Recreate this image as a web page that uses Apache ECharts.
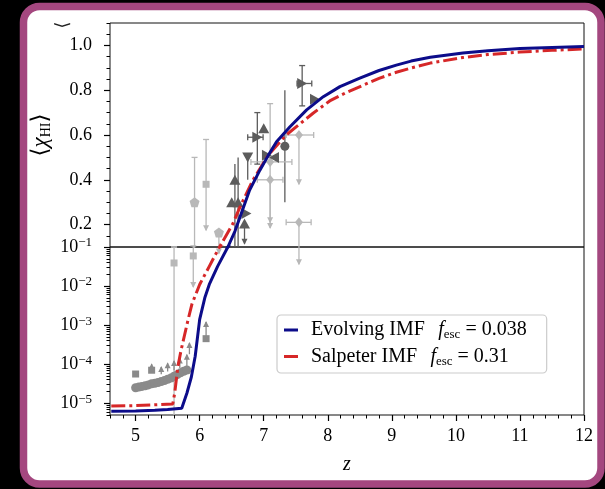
<!DOCTYPE html>
<html>
<head>
<meta charset="utf-8">
<script src="https://cdn.jsdelivr.net/npm/echarts@6/dist/echarts.min.js"></script>
<style>
  html, body { margin: 0; padding: 0; background: #000; }
  #chart { width: 605px; height: 489px; }
</style>
</head>
<body>
<div id="chart"></div>
<script>
// Mean neutral hydrogen fraction <x_HI> against redshift z for two IMF models.
const SERIF = '"Liberation Serif", "DejaVu Serif", serif';

// --- model curves -------------------------------------------------------
const evolvingZ = [4.62, 5.0, 5.3, 5.5, 5.72, 5.8, 5.87, 5.93, 6.0, 6.08, 6.15, 6.28, 6.44,
  6.55, 6.63, 6.78, 6.94, 7.09, 7.2, 7.41, 7.67, 7.93, 8.19, 8.5, 8.8, 9.07, 9.3, 9.6, 10.11,
  10.5, 11.0, 11.5, 12.0];
const evolvingX = [6.2e-6, 6.3e-6, 6.6e-6, 6.9e-6, 7.4e-6, 1.8e-5, 4.7e-5, 1.6e-4, 1.4e-3, 5.0e-3,
  1.1e-2, 3.2e-2, 0.1, 0.17, 0.234, 0.354, 0.443, 0.518, 0.57, 0.637, 0.712, 0.771, 0.816, 0.854,
  0.888, 0.912, 0.930, 0.947, 0.966, 0.976, 0.986, 0.991, 0.995];

const salpeterZ = [4.62, 5.0, 5.3, 5.58, 5.61, 5.66, 5.71, 5.82, 5.88, 6.0, 6.15, 6.31,
  6.52, 6.63, 6.83, 7.07, 7.35, 7.77, 8.03, 8.29, 8.55, 8.8, 9.07, 9.3, 9.6, 10.11, 10.5, 11.0,
  11.5, 12.0];
const salpeterX = [8.5e-6, 8.7e-6, 9.1e-6, 9.6e-6, 1.8e-5, 8.7e-5, 2.3e-4, 1.4e-3, 3.5e-3, 1.1e-2,
  3.2e-2, 0.1, 0.205, 0.279, 0.398, 0.51, 0.60, 0.697, 0.752, 0.790, 0.822, 0.853, 0.880, 0.899,
  0.921, 0.946, 0.959, 0.970, 0.978, 0.984];

const seriesNames = ['Evolving IMF', 'Salpeter IMF'];
const fescValues = ['0.038', '0.31'];

// --- observational constraints -------------------------------------------
// markers: [z, x_HI]
const darkRightTri = [[7.60, 0.83], [7.80, 0.76], [6.90, 0.59], [7.05, 0.51], [6.73, 0.25]];
const darkUpTri = [[7.00, 0.63], [6.55, 0.40], [6.50, 0.30], [6.60, 0.30], [6.70, 0.205]];
const darkDownTri = [[6.75, 0.50]];
const darkLeftTri = [[7.16, 0.50]];
const darkCircle = [[7.33, 0.55]];

const lightPentagon = [[5.92, 0.30], [6.30, 0.165]];
const lightSquare = [[6.10, 0.38], [5.60, 0.039], [5.90, 0.059]];
const lightDiamond = [[7.10, 0.48], [7.10, 0.40], [7.55, 0.60], [7.55, 0.21]];

const midCircleZ = [5.0, 5.05, 5.1, 5.15, 5.2, 5.25, 5.3, 5.35, 5.4, 5.45, 5.5, 5.55, 5.6, 5.65,
  5.7, 5.75, 5.8];
const midCircleX = [2.5e-5, 2.6e-5, 2.7e-5, 2.8e-5, 2.95e-5, 3.15e-5, 3.25e-5, 3.4e-5, 3.6e-5,
  3.8e-5, 4.1e-5, 4.4e-5, 4.9e-5, 5.4e-5, 6.0e-5, 6.6e-5, 7.1e-5];
const midSquare = [[5.00, 5.6e-5], [5.25, 7.0e-5], [6.10, 4.5e-4]];

// error bars: [z, x, zLow, zHigh, xLow, xHigh, lowEnd, highEnd]
// an end is 'cap', 'arrow' (limit) or null
const darkBars = [
  [7.60, 0.83, 7.52, 7.75, 0.73, 0.91, 'cap', 'cap'],
  [6.90, 0.59, 6.75, 6.99, 0.47, 0.70, 'cap', 'cap'],
  [7.33, 0.55, null, null, 0.30, 0.80, null, null],
  [6.55, 0.40, null, null, 0.10, 0.47, null, null],
  [6.60, 0.30, null, null, 0.10, 0.50, null, null],
  [6.75, 0.50, null, null, 0.40, 0.50, null, null],
  [6.70, 0.205, null, null, 0.115, 0.205, 'arrow', null]
];
const lightBars = [
  [5.92, 0.30, null, null, 0.095, 0.50, null, 'cap'],
  [6.10, 0.38, null, null, 0.175, 0.58, 'arrow', 'cap'],
  [6.30, 0.165, null, null, 0.068, 0.165, 'arrow', null],
  [7.10, 0.48, 6.80, 7.44, 0.21, 0.74, 'arrow', 'cap'],
  [7.10, 0.40, 6.90, 7.30, 0.185, 0.40, 'arrow', null],
  [7.55, 0.60, 7.35, 7.78, 0.38, 0.60, 'arrow', null],
  [7.55, 0.21, 7.35, 7.74, 0.036, 0.21, 'arrow', null],
  [5.60, 0.039, null, null, 1e-6, 0.10, null, 'cap'],
  [5.90, 0.059, null, null, 0.0095, 0.105, 'arrow', 'cap']
];
const midBars = [
  [5.25, 7.0e-5, null, null, 7.0e-5, 1.0e-4, null, 'arrow'],
  [5.40, 5.5e-5, null, null, 5.5e-5, 8.5e-5, null, 'arrow'],
  [5.50, 6.5e-5, null, null, 6.5e-5, 1.05e-4, null, 'arrow'],
  [5.60, 7.0e-5, null, null, 7.0e-5, 1.2e-4, null, 'arrow'],
  [5.69, 8.0e-5, null, null, 8.0e-5, 1.4e-4, null, 'arrow'],
  [5.80, 9.0e-5, null, null, 9.0e-5, 1.75e-4, null, 'arrow'],
  [5.84, 1.8e-4, null, null, 1.8e-4, 3.5e-4, null, 'arrow'],
  [6.10, 4.5e-4, null, null, 4.5e-4, 1.2e-3, null, 'arrow']
];

// --- tick positions --------------------------------------------------------
const zTicks = [5, 6, 7, 8, 9, 10, 11, 12];
const linTicks = [0.2, 0.4, 0.6, 0.8, 1.0];
const logTicks = [1e-5, 1e-4, 1e-3, 1e-2, 1e-1];

const zMinor = [];
for (let i = 23; i <= 60; i++) zMinor.push(+(i * 0.2).toFixed(1));
const linMinor = [];
for (let i = 2; i <= 22; i++) linMinor.push(+(i * 0.05).toFixed(2));
const logMinor = [];
for (let e = -6; e <= -2; e++) for (let m = 2; m <= 9; m++) logMinor.push(+(m * Math.pow(10, e)).toPrecision(3));

const BLUE = '#0c0c8a';
const RED = '#d62728';
const DARK = '#5c5c5c';
const LIGHT = '#b8b8b8';
const MID = '#8a8a8a';

const zip = (a, b) => a.map((v, i) => [v, b[i]]);
const PENTAGON = 'path://M0,-10 L9.51,-3.09 L5.88,8.09 L-5.88,8.09 L-9.51,-3.09 Z';

function barRenderer(bars, color) {
  return function (params, api) {
    const b = bars[params.dataIndex];
    const cs = params.coordSys;
    const top = cs.y, bottom = cs.y + cs.height;
    const inside = y => y >= top - 0.5 && y <= bottom + 0.5;
    const style = { stroke: color, lineWidth: 1.3, fill: null };
    const children = [];
    const c = api.coord([b[0], b[1]]);
    if (b[4] != null || b[5] != null) {
      const yl = api.coord([b[0], b[4] != null ? b[4] : b[1]])[1];
      const yh = api.coord([b[0], b[5] != null ? b[5] : b[1]])[1];
      const y1 = Math.max(Math.min(yl, yh), top);
      const y2 = Math.min(Math.max(yl, yh), bottom);
      if (y2 > y1) children.push({ type: 'line', shape: { x1: c[0], y1: y1, x2: c[0], y2: y2 }, style: style });
      [[yl, b[6], 1], [yh, b[7], -1]].forEach(([y, kind, dir]) => {
        if (!kind || !inside(y)) return;
        if (kind === 'cap') {
          children.push({ type: 'line', shape: { x1: c[0] - 3, y1: y, x2: c[0] + 3, y2: y }, style: style });
        } else {
          children.push({ type: 'polygon', shape: { points: [[c[0] - 3, y - dir * 5], [c[0] + 3, y - dir * 5], [c[0], y + dir * 1]] },
            style: { fill: color, stroke: null } });
        }
      });
    }
    if (b[2] != null && inside(c[1])) {
      const xl = api.coord([b[2], b[1]])[0];
      const xh = api.coord([b[3], b[1]])[0];
      children.push({ type: 'line', shape: { x1: xl, y1: c[1], x2: xh, y2: c[1] }, style: style });
      children.push({ type: 'line', shape: { x1: xl, y1: c[1] - 3, x2: xl, y2: c[1] + 3 }, style: style });
      children.push({ type: 'line', shape: { x1: xh, y1: c[1] - 3, x2: xh, y2: c[1] + 3 }, style: style });
    }
    return { type: 'group', children: children };
  };
}

const series = [];
[[0, 0], [1, 2]].forEach(([xi, yi]) => {
  const base = { xAxisIndex: xi, yAxisIndex: yi };
  [[darkBars, DARK], [lightBars, LIGHT], [midBars, MID]].forEach(([bars, col]) => {
    series.push(Object.assign({
      type: 'custom', name: 'bars', renderItem: barRenderer(bars, col),
      data: bars.map(b => [b[0], b[1]]), encode: { x: 0, y: 1 }, z: 1, silent: true
    }, base));
  });
  const scatter = (data, symbol, size, color, rotate) => series.push(Object.assign({
    type: 'scatter', name: 'obs', data: data, symbol: symbol, symbolSize: size,
    symbolRotate: rotate || 0, itemStyle: { color: color, opacity: 1 }, clip: true, z: 2, silent: true
  }, base));
  scatter(zip(midCircleZ, midCircleX), 'circle', 9, MID);
  scatter(midSquare, 'rect', 7, MID);
  scatter(lightPentagon, PENTAGON, 10, LIGHT);
  scatter(lightSquare, 'rect', 7, LIGHT);
  scatter(lightDiamond, 'diamond', [8, 10], LIGHT);
  scatter(darkRightTri, 'triangle', [11, 10], DARK, -90);
  scatter(darkUpTri, 'triangle', [11, 10], DARK);
  scatter(darkDownTri, 'triangle', [11, 10], DARK, 180);
  scatter(darkLeftTri, 'triangle', [11, 10], DARK, 90);
  scatter(darkCircle, 'circle', 9, DARK);
  series.push(Object.assign({
    type: 'line', name: seriesNames[0], data: zip(evolvingZ, evolvingX), showSymbol: false,
    symbol: 'none', lineStyle: { color: BLUE, width: 3 }, itemStyle: { color: BLUE }, z: 5, clip: true
  }, base));
  series.push(Object.assign({
    type: 'line', name: seriesNames[1], data: zip(salpeterZ, salpeterX), showSymbol: false,
    symbol: 'none', lineStyle: { color: RED, width: 3, type: [14, 4, 3, 4] }, itemStyle: { color: RED }, z: 4, clip: true
  }, base));
});

const labelFont = { fontFamily: SERIF, fontSize: 18, color: '#000' };
const supRich = {
  b: { fontFamily: SERIF, fontSize: 18, color: '#000', lineHeight: 21 },
  s: { fontFamily: SERIF, fontSize: 13, color: '#000', lineHeight: 21, verticalAlign: 'top' }
};

const option = {
  animation: false,
  backgroundColor: '#000',
  graphic: [
    { type: 'rect', z: -100, shape: { x: 23.5, y: 6.5, width: 577.5, height: 477.5, r: 16 },
      style: { fill: '#fff', stroke: '#a4477f', lineWidth: 7.5 } },
    { type: 'text', z: -50, x: 63, y: 25, rotation: Math.PI / 2,
      style: { text: '⟨', font: '18px ' + SERIF, fill: '#222', align: 'center', verticalAlign: 'middle' } }
  ],
  grid: [
    { left: 110, top: 23, width: 474, height: 224, show: true, borderColor: '#111', borderWidth: 1, backgroundColor: 'transparent' },
    { left: 110, top: 247, width: 474, height: 168, show: true, borderColor: '#111', borderWidth: 1, backgroundColor: 'transparent' }
  ],
  xAxis: [
    { type: 'value', gridIndex: 0, position: 'bottom', min: 4.6, max: 12, axisLine: { show: false }, axisTick: { show: false },
      axisLabel: { show: false }, splitLine: { show: false } },
    { type: 'value', gridIndex: 1, position: 'bottom', min: 4.6, max: 12, axisLine: { show: false }, splitLine: { show: false },
      axisTick: { customValues: zTicks, length: 6, lineStyle: { color: '#000', width: 1.2 } },
      axisLabel: { customValues: zTicks, margin: 12, ...labelFont },
      name: 'z', nameLocation: 'middle', nameGap: 40,
      nameTextStyle: { fontFamily: SERIF, fontSize: 20, fontStyle: 'italic', color: '#000' } },
    { type: 'value', gridIndex: 1, position: 'bottom', min: 4.6, max: 12, axisLine: { show: false }, splitLine: { show: false },
      axisTick: { customValues: zMinor, length: 3.5, lineStyle: { color: '#000', width: 1 } },
      axisLabel: { show: false } }
  ],
  yAxis: [
    { type: 'value', gridIndex: 0, position: 'left', min: 0.1, max: 1.1, axisLine: { show: false }, splitLine: { show: false },
      axisTick: { customValues: linTicks, length: 6, lineStyle: { color: '#000', width: 1.2 } },
      axisLabel: { customValues: linTicks, margin: 18, formatter: v => v.toFixed(1), ...labelFont },
      name: '{a|⟨}{c|χ}{s|HI}{a|⟩}', nameLocation: 'middle', nameRotate: 90, nameGap: 57,
      nameTextStyle: { rich: {
        a: { fontFamily: SERIF, fontSize: 23, color: '#000', lineHeight: 24 },
        c: { fontFamily: SERIF, fontSize: 23, fontStyle: 'italic', color: '#000', lineHeight: 24 },
        s: { fontFamily: SERIF, fontSize: 14, color: '#000', lineHeight: 24, verticalAlign: 'bottom' }
      } } },
    { type: 'value', gridIndex: 0, position: 'left', min: 0.1, max: 1.1, axisLine: { show: false }, splitLine: { show: false },
      axisTick: { customValues: linMinor, length: 3.5, lineStyle: { color: '#000', width: 1 } },
      axisLabel: { show: false } },
    { type: 'log', logBase: 10, gridIndex: 1, position: 'left', min: 5e-6, max: 0.1, axisLine: { show: false }, splitLine: { show: false },
      axisTick: { customValues: logTicks, length: 6, lineStyle: { color: '#000', width: 1.2 } },
      axisLabel: { customValues: logTicks, margin: 18,
        formatter: v => '{b|10}{s|−' + Math.round(-Math.log10(v)) + '}', rich: supRich } },
    { type: 'log', logBase: 10, gridIndex: 1, position: 'left', min: 5e-6, max: 0.1, axisLine: { show: false }, splitLine: { show: false },
      axisTick: { customValues: logMinor, length: 3.5, lineStyle: { color: '#000', width: 1 } },
      axisLabel: { show: false } }
  ],
  legend: {
    data: seriesNames, orient: 'vertical', left: 277, top: 315,
    padding: [5, 20, 5, 7], itemGap: 5, itemWidth: 14, itemHeight: 3, icon: 'rect',
    itemStyle: { borderWidth: 0 },
    backgroundColor: '#fff', borderColor: '#cccccc', borderWidth: 1.2, borderRadius: 4,
    formatter: name => '{n|' + name + '}    {f|f}{s|esc}{e| = ' + fescValues[seriesNames.indexOf(name)] + '}',
    textStyle: { rich: {
      n: { fontFamily: SERIF, fontSize: 20, color: '#000', lineHeight: 23, padding: [0, 0, 0, 8] },
      f: { fontFamily: SERIF, fontSize: 20, fontStyle: 'italic', color: '#000', lineHeight: 23 },
      s: { fontFamily: SERIF, fontSize: 13, color: '#000', lineHeight: 23, verticalAlign: 'bottom' },
      e: { fontFamily: SERIF, fontSize: 20, color: '#000', lineHeight: 23 }
    } }
  },
  series: series
};

const chart = echarts.init(document.getElementById('chart'), null, { renderer: 'canvas' });
chart.setOption(option);
</script>
</body>
</html>
